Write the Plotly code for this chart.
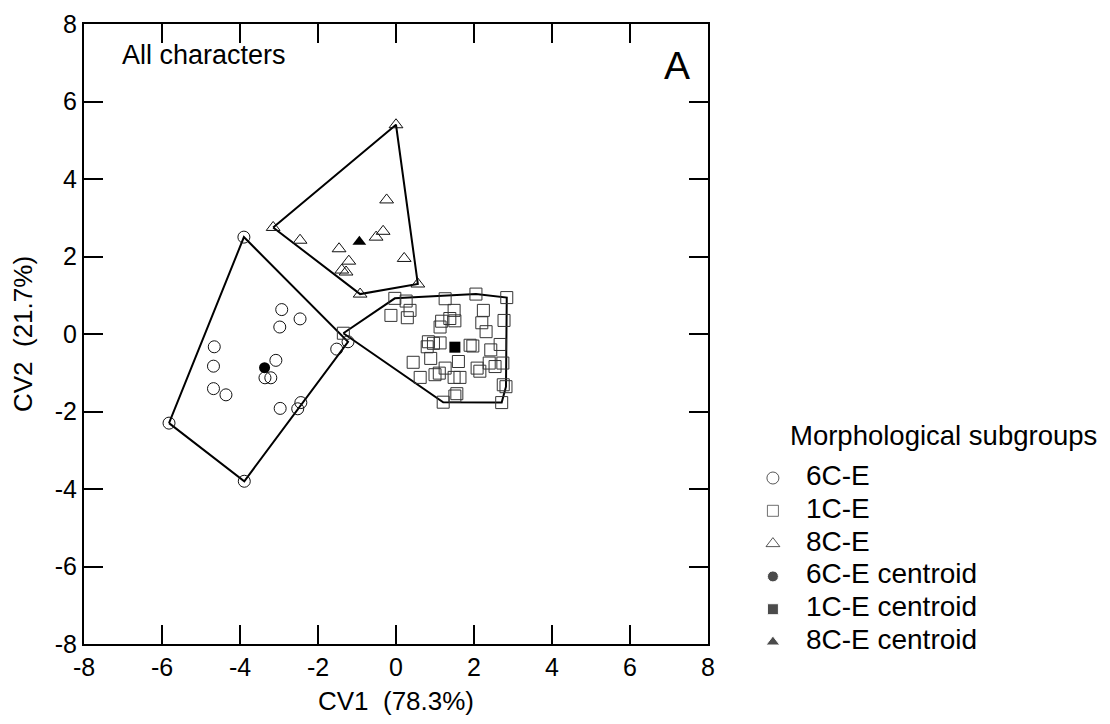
import plotly.graph_objects as go

# ---- data ----
g6_x = [-3.90, -5.82, -3.89, -1.23, -1.52, -2.93, -2.46, -2.98, -4.66, -4.68,
        -3.08, -3.36, -3.21, -4.68, -4.36, -2.97, -2.44, -2.52]
g6_y = [2.50, -2.30, -3.80, -0.20, -0.39, 0.63, 0.39, 0.18, -0.33, -0.83,
        -0.68, -1.13, -1.13, -1.41, -1.57, -1.92, -1.77, -1.93]

g1_x = [-1.35, -0.03, -0.13, 0.26, 0.36, 0.29, 1.26, 2.05, 2.84, 1.49,
        2.24, 1.17, 1.38, 1.51, 1.13, 2.20, 2.31, 2.77, 0.83, 0.80,
        0.96, 1.13, 1.90, 1.97, 2.43, 2.67, 0.44, 0.89, 1.26, 1.60,
        2.08, 2.15, 2.39, 2.54, 2.74, 0.62, 1.00, 1.11, 1.49, 1.64,
        2.75, 2.82, 1.56, 1.51, 1.21, 2.71]
g1_y = [0.02, 0.92, 0.48, 0.85, 0.61, 0.42, 0.91, 1.03, 0.94, 0.61,
        0.61, 0.33, 0.40, 0.34, 0.18, 0.29, 0.06, 0.35, -0.20, -0.33,
        -0.24, -0.23, -0.29, -0.31, -0.41, -0.27, -0.73, -0.63, -0.88, -0.71,
        -0.88, -0.96, -0.75, -0.84, -0.75, -1.12, -1.05, -1.01, -1.12, -1.12,
        -1.31, -1.36, -1.54, -1.60, -1.76, -1.77]

g8_x = [0.00, -3.15, -2.46, -0.24, -0.33, -0.51, -1.46, -1.21, -1.39, -1.28,
        0.21, 0.56, -0.92]
g8_y = [5.40, 2.75, 2.42, 3.46, 2.65, 2.50, 2.20, 1.88, 1.65, 1.60,
        1.95, 1.29, 1.03]

cent_x = [-3.37, 1.51, -0.94]
cent_y = [-0.87, -0.34, 2.38]

groups = ["6C-E", "1C-E", "8C-E"]
legend_labels = ["6C-E", "1C-E", "8C-E",
                 "6C-E centroid", "1C-E centroid", "8C-E centroid"]
legend_title = "Morphological subgroups"
x_ticks = [-8, -6, -4, -2, 0, 2, 4, 6, 8]
y_ticks = [-8, -6, -4, -2, 0, 2, 4, 6, 8]


def hull(xs, ys):
    pts = sorted(set(zip(xs, ys)))

    def cross(o, a, b):
        return (a[0] - o[0]) * (b[1] - o[1]) - (a[1] - o[1]) * (b[0] - o[0])

    lower, upper = [], []
    for p in pts:
        while len(lower) >= 2 and cross(lower[-2], lower[-1], p) <= 0:
            lower.pop()
        lower.append(p)
    for p in reversed(pts):
        while len(upper) >= 2 and cross(upper[-2], upper[-1], p) <= 0:
            upper.pop()
        upper.append(p)
    h = lower[:-1] + upper[:-1]
    h.append(h[0])
    return [p[0] for p in h], [p[1] for p in h]


FONT = "Arial, Liberation Sans, sans-serif"
fig = go.Figure()

for xs, ys in [(g6_x, g6_y), (g1_x, g1_y), (g8_x, g8_y)]:
    hx, hy = hull(xs, ys)
    fig.add_trace(go.Scatter(x=hx, y=hy, mode="lines",
                             line=dict(color="black", width=2),
                             showlegend=False, hoverinfo="skip"))

open_syms = ["circle-open", "square-open", "triangle-up-open"]
open_cols = ["#111", "#333", "#111"]
fill_syms = ["circle", "square", "triangle-up"]
for i, (xs, ys) in enumerate([(g6_x, g6_y), (g1_x, g1_y), (g8_x, g8_y)]):
    fig.add_trace(go.Scatter(x=xs, y=ys, mode="markers", name=groups[i],
                             showlegend=False,
                             marker=dict(symbol=open_syms[i], size=12,
                                         color=open_cols[i],
                                         line=dict(width=1))))
cent_size = [11, 11, 12]
for i in range(3):
    fig.add_trace(go.Scatter(x=[cent_x[i]], y=[cent_y[i]], mode="markers",
                             name=groups[i] + " centroid", showlegend=False,
                             marker=dict(symbol=fill_syms[i], size=cent_size[i],
                                         color="black")))

# ---- manual legend on its own axes ----
leg_rows = [-i for i in range(len(legend_labels))]
leg_syms = open_syms + fill_syms
leg_cols = open_cols + ["black"] * 3
leg_sizes = [12, 11, 12, 11, 11, 12]
fig.add_trace(go.Scatter(x=[0.38] * 6, y=leg_rows, mode="markers",
                         xaxis="x2", yaxis="y2", showlegend=False,
                         cliponaxis=False, hoverinfo="skip",
                         marker=dict(symbol=leg_syms, size=leg_sizes,
                                     color=leg_cols, line=dict(width=1))))
fig.add_trace(go.Scatter(x=[1.35] * 6, y=leg_rows, mode="text",
                         text=legend_labels, textposition="middle right",
                         xaxis="x2", yaxis="y2", showlegend=False,
                         cliponaxis=False, hoverinfo="skip",
                         textfont=dict(size=28, color="black")))

axis_common = dict(showgrid=False, zeroline=False, showline=True,
                   linecolor="black", linewidth=2, mirror="ticks",
                   ticks="inside", ticklen=19, tickwidth=1.5,
                   tickcolor="black", automargin=False,
                   ticklabeloverflow="allow",
                   tickfont=dict(size=25, color="black"))

# page has an 8px body margin; figure sized so plot frame lands at
# about x 84..708, y 24..644 in the 1110x724 window
W, H = 1102, 708
ML, MR, MT, MB = 76, 2, 16, 72
PW = W - ML - MR
PH = H - MT - MB
main_w = 624 / PW
fig.update_layout(
    xaxis=dict(range=[-8, 8], domain=[0, main_w], tickvals=x_ticks,
               ticktext=[str(v) for v in x_ticks],
               title=dict(text="CV1\u00a0\u00a0(78.3%)",
                          font=dict(size=26, color="black"), standoff=14),
               **axis_common),
    yaxis=dict(range=[-8, 8], domain=[0, 1], tickvals=y_ticks,
               ticktext=[str(v) for v in y_ticks],
               title=dict(text="CV2\u00a0\u00a0(21.7%)",
                          font=dict(size=26, color="black"), standoff=16),
               **axis_common),
    xaxis2=dict(domain=[(760 - 84) / PW, 1.0], range=[0, (PW - 676) / 34],
                visible=False, fixedrange=True, anchor="y2"),
    yaxis2=dict(domain=[0, (644 - 420) / PH], range=[-5.06, 1.768],
                visible=False, fixedrange=True, anchor="x2"),
)

fig.add_annotation(x=-7.08, y=7.2, xref="x", yref="y", text="All characters",
                   showarrow=False, xanchor="left", yanchor="middle",
                   font=dict(size=27, color="black"))
fig.add_annotation(x=7.2, y=6.92, xref="x", yref="y", text="A",
                   showarrow=False, xanchor="center", yanchor="middle",
                   font=dict(size=39, color="black"))
fig.add_annotation(x=0.82, y=1.31, xref="x2", yref="y2",
                   text=legend_title, showarrow=False,
                   xanchor="left", yanchor="middle",
                   font=dict(size=27.5, color="black"))

fig.update_layout(
    width=W, height=H,
    margin=dict(l=ML, r=MR, t=MT, b=MB),
    paper_bgcolor="white", plot_bgcolor="white",
    font=dict(family=FONT, color="black"),
    showlegend=False,
)

fig.write_html("out.html")
